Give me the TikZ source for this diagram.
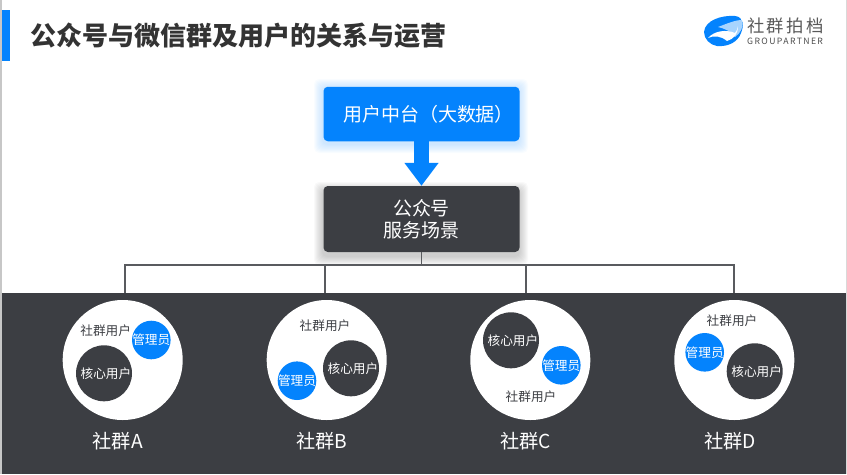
\documentclass[tikz,border=0pt]{standalone}
\usepackage{fontspec}
\setmainfont{Noto Sans CJK SC}
\newfontfamily\logofont[LetterSpace=14]{Noto Sans CJK SC}
\newfontfamily\logosubfont[LetterSpace=16]{Noto Sans CJK SC}
\usetikzlibrary{arrows.meta}
\definecolor{mainblue}{RGB}{4,131,253}
\definecolor{maindark}{RGB}{60,62,67}
\tikzset{
    box/.style={rounded corners=1.3mm, minimum width=196*0.03cm, text=white, align=center, font=\fontsize{16.2}{19}\selectfont, inner sep=0pt},
    bus/.style={maindark!85, line width=1.4pt},
    group/.style={circle, fill=white, minimum size=120*0.03cm, inner sep=0pt},
    core/.style={circle, fill=maindark, minimum size=56*0.03cm, inner sep=0pt, text=white, font=\fontsize{10.8}{12}\selectfont},
    admin/.style={circle, fill=mainblue, minimum size=38.6*0.03cm, inner sep=0pt, text=white, font=\fontsize{10.8}{12}\selectfont},
    member/.style={text=maindark, inner sep=0pt, font=\fontsize{10.8}{12}\selectfont},
    groupname/.style={text=white, inner sep=0pt, font=\fontsize{16.4}{19}\selectfont},
}
\begin{document}
\begin{tikzpicture}[x=0.03cm, y=-0.03cm]
    \useasboundingbox (0, 0) rectangle (847, 474);

    % page edges and title
    \fill[black!22] (0, 0) rectangle (2, 474);
    \fill[black!15] (846, 0) rectangle (847, 474);
    \fill[mainblue] (2, 10) rectangle (10, 61);
    \node[text=black!80, inner sep=0pt, anchor=west, font=\fontsize{22.2}{26}\bfseries\selectfont] (title) at (30.5, 36) {公众号与微信群及用户的关系与运营};

    % logo
    \fill[mainblue] (704, 32) .. controls (705, 20) and (722, 15) .. (735, 16) .. controls (744, 17) and (744, 26) .. (741, 33) .. controls (738, 42) and (728, 47) .. (717, 46) .. controls (710, 45) and (704, 39) .. (704, 32);
    \fill[mainblue!35] (718, 27) .. controls (726, 24) and (735, 20) .. (742, 20) .. controls (744, 26) and (741, 33) .. (735, 37) .. controls (732, 32) and (726, 29) .. (718, 27);
    \fill[white] (708, 38) .. controls (714, 31) and (726, 29) .. (735, 33) .. controls (737, 30) and (738, 28) .. (738, 26) .. controls (738, 34) and (734, 39) .. (727, 41) .. controls (721, 36) and (714, 35) .. (708, 38);
    \node[text=black!65, inner sep=0pt, anchor=west, font=\logofont\fontsize{14.8}{17}\selectfont] (logoname) at (747, 26) {社群拍档};
    \node[text=black!70, inner sep=0pt, anchor=west, font=\logosubfont\fontsize{7.4}{8}\selectfont] (logosub) at (747, 41.5) {GROUPARTNER};

    % soft shadows
    \foreach \s in {1, 2, ..., 9} {
        \fill[mainblue, opacity=0.025, rounded corners=1.5mm] (323-\s, 88-\s) rectangle (519+\s, 144+\s);
        \fill[black, opacity=0.022, rounded corners=1.5mm] (323-\s, 191-\s) rectangle (519+\s, 256+\s);
    }

    % dark band
    \node[fill=maindark, minimum width=844*0.03cm, minimum height=181*0.03cm, inner sep=0pt] (band) at (424, 383.5) {};

    % boxes
    \node[box, fill=mainblue, minimum height=54.5*0.03cm] (hub) at (421.5, 114) {\hspace{12pt}用户中台（大数据）};
    \node[box, fill=maindark, minimum height=66*0.03cm] (scene) at (421.5, 219) {公众号\\服务场景};
    \draw[mainblue, line width=13.6pt, -{Triangle[length=19.6pt, width=28pt]}] (hub.south) -- (scene.north);

    % groups
    \node[group] (groupA) at (122.7, 360) {};
    \node[group] (groupB) at (326.7, 360) {};
    \node[group] (groupC) at (530.3, 360) {};
    \node[group] (groupD) at (734.3, 360) {};

    \node[core] (coreA) at (104, 373.3) {\makebox[0pt]{\hspace{3.4pt}核心用户}};
    \node[core] (coreB) at (351, 368.3) {\makebox[0pt]{\hspace{3.4pt}核心用户}};
    \node[core] (coreC) at (511, 340.3) {\makebox[0pt]{\hspace{3.4pt}核心用户}};
    \node[core] (coreD) at (754.7, 371.3) {\makebox[0pt]{\hspace{3.4pt}核心用户}};

    \node[admin] (adminA) at (151.3, 340) {\makebox[0pt]{管理员}};
    \node[admin] (adminB) at (297, 380.7) {\makebox[0pt]{管理员}};
    \node[admin] (adminC) at (561.3, 365.3) {\makebox[0pt]{管理员}};
    \node[admin] (adminD) at (704.7, 352.3) {\makebox[0pt]{管理员}};

    \node[member] (memberA) at (105.7, 330.7) {社群用户};
    \node[member] (memberB) at (325, 325.7) {社群用户};
    \node[member] (memberC) at (531, 396.7) {社群用户};
    \node[member] (memberD) at (732, 321) {社群用户};

    \node[groupname] (nameA) at (117.7, 441) {社群A};
    \node[groupname] (nameB) at (321.7, 441) {社群B};
    \node[groupname] (nameC) at (525.7, 441) {社群C};
    \node[groupname] (nameD) at (730, 441) {社群D};

    % bus
    \coordinate (busA) at (125, 265);
    \coordinate (busB) at (325, 265);
    \coordinate (busC) at (526, 265);
    \coordinate (busD) at (734, 265);
    \draw[bus] (scene.south) -- (scene.south |- busA);
    \draw[bus] (band.north -| busA) -- (busA) -- (busD) -- (band.north -| busD);
    \draw[bus] (busB) -- (band.north -| busB);
    \draw[bus] (busC) -- (band.north -| busC);
\end{tikzpicture}
\end{document}
